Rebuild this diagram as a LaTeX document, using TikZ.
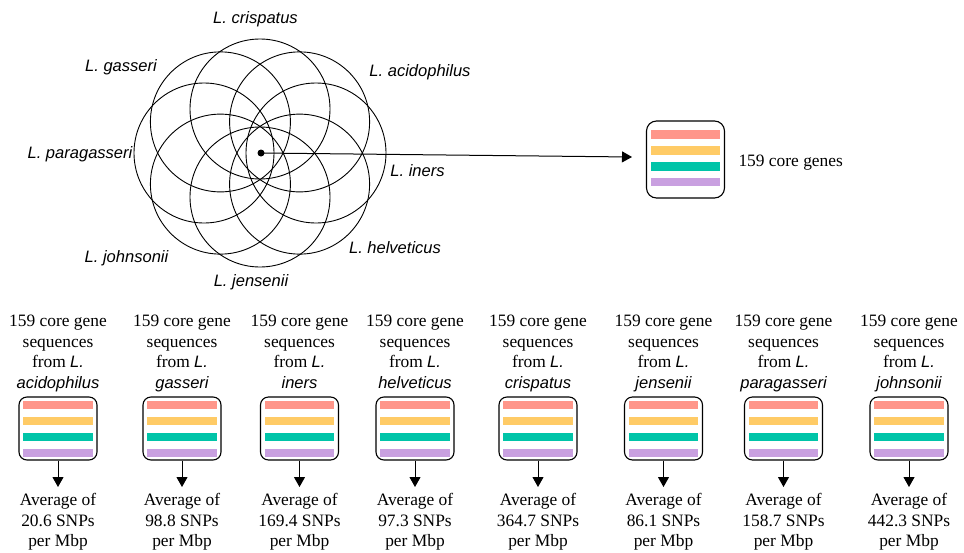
\documentclass[tikz,border=0pt]{standalone}
\usepackage{fontspec}
\setmainfont{Liberation Serif}
\newfontfamily\spfont{Liberation Sans}[Scale=0.95]
\usetikzlibrary{arrows.meta,calc}
\definecolor{barA}{HTML}{FF968A}
\definecolor{barB}{HTML}{FFCB66}
\definecolor{barC}{HTML}{00C4A8}
\definecolor{barD}{HTML}{C9A0E0}
\newcommand{\genebars}[3]{% node name, offset of first bar from top, inset
  \foreach \cc/\k in {barA/0,barB/1,barC/2,barD/3}{
    \fill[\cc] ($(#1.north west)+(#3,{#2+15.9*\k})$) rectangle ($(#1.north east)+(-#3,{#2+15.9*\k+8.3})$);
  }}
\begin{document}
\begin{tikzpicture}[x=1pt,y=-1pt,line width=1pt,
  ring/.style={circle,draw,line width=0.9pt,minimum size=140pt,inner sep=0},
  lab/.style={font=\fontsize{17.4}{20.5}\selectfont\spfont\itshape,anchor=base,inner sep=0},
  txt/.style={font=\fontsize{17.4}{20.5}\selectfont,align=center,anchor=north,inner sep=0},
  genebox/.style={draw,rounded corners=8pt,line width=1.1pt,minimum width=78pt,minimum height=63pt,inner sep=0},
  arr/.style={-{Triangle[length=10pt,width=11pt]},line width=1pt}]
\useasboundingbox (0,0) rectangle (964,552);
% flower of circles
\foreach \k in {0,...,7}{
  \node[ring] (c\k) at ({260+56*cos(45*\k)},{153-44*sin(45*\k)}) {};
}
\node[circle,fill,inner sep=0,minimum size=7pt] (dot) at (261,153) {};
% species labels
\node[lab] (lcri) at (255.5,23.3) {L. crispatus};
\node[lab] (lgas) at (121,71.7) {L. gasseri};
\node[lab] (laci) at (420,76) {L. acidophilus};
\node[lab] (lpar) at (80,158.3) {L. paragasseri};
\node[lab] (line) at (417.5,176.7) {L. iners};
\node[lab] (lhel) at (395,253.3) {L. helveticus};
\node[lab] (ljoh) at (126.5,262.3) {L. johnsonii};
\node[lab] (ljen) at (251,286.7) {L. jensenii};
% core genes box
\node[genebox,rounded corners=10pt,minimum height=77pt] (core) at (685.5,159.5) {};
\genebars{core}{10}{5}
\node[font=\fontsize{17.4}{20.5}\selectfont,anchor=base west,inner sep=0] (coretxt) at (738,166.5) {159 core genes};
\coordinate (tip) at (632,157);
\draw[arr] (dot.center) -- (tip);
% columns
\foreach \x/\nm/\val [count=\i] in {58/acidophilus/20.6,182/gasseri/98.8,299.5/iners/169.4,415/helveticus/97.3,538/crispatus/364.7,663.5/jensenii/86.1,783.5/paragasseri/158.7,909/johnsonii/442.3}{
  \node[txt] (t\i) at (\x,313) {\rule{0pt}{13pt}159 core gene\\sequences\\from {\spfont\itshape L.}\\{\spfont\itshape \nm}};
  \node[genebox] (b\i) at (\x,428.5) {};
  \genebars{b\i}{4.7}{5}
  \node[txt] (a\i) at (\x,492) {\rule{0pt}{13pt}Average of\\\val{} SNPs\\per Mbp};
  \draw[arr,shorten >=5pt] (b\i.south) -- (a\i.north);
}
\end{tikzpicture}
\end{document}
